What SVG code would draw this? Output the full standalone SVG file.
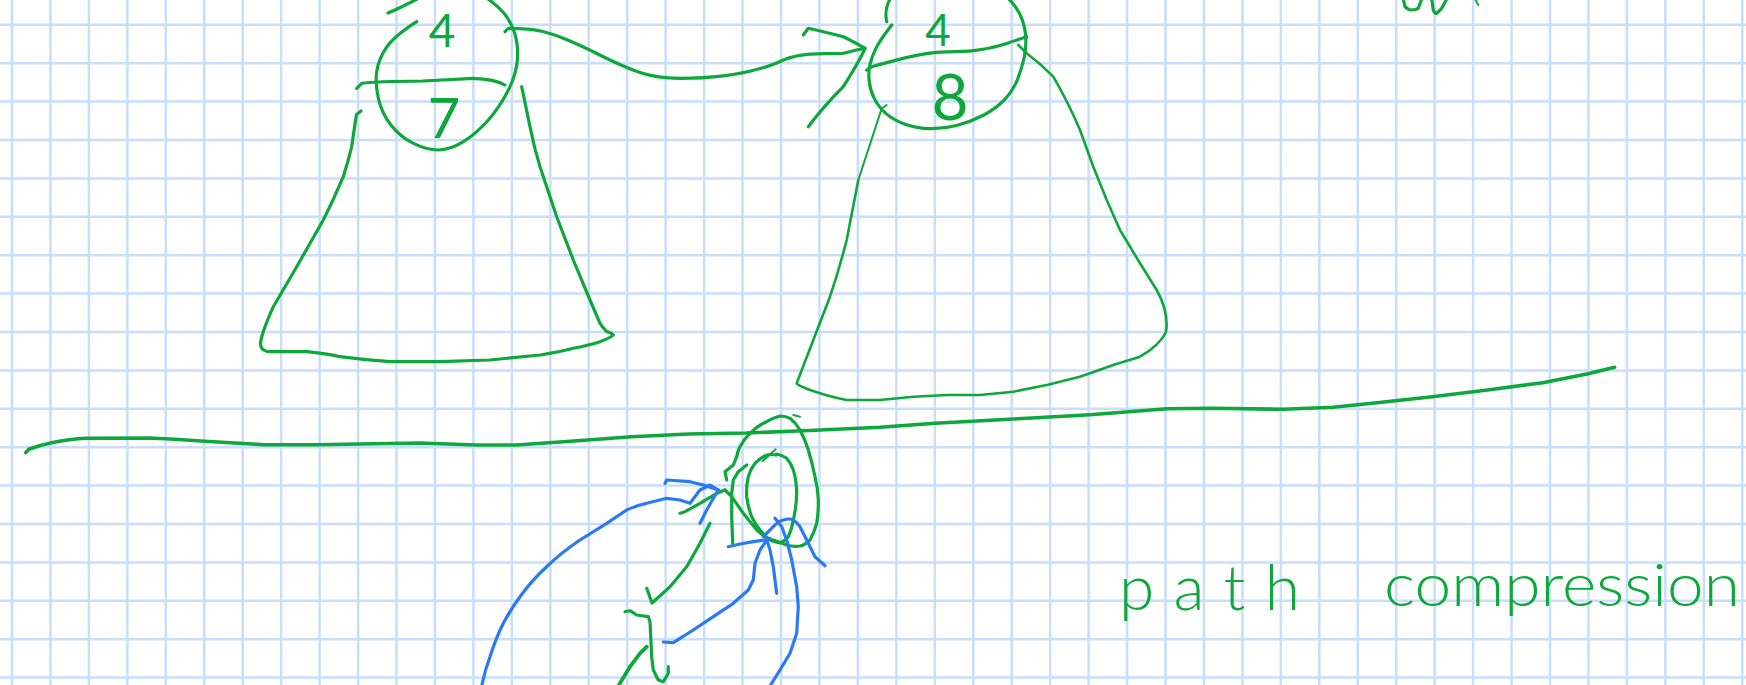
<svg xmlns="http://www.w3.org/2000/svg" width="1746" height="685" viewBox="0 0 1746 685">
<style>
.grid{fill:none;stroke:#c9defd;stroke-width:2.5}
.g{fill:none;stroke:#0ca83c;stroke-width:3.2;stroke-linecap:round;stroke-linejoin:round}
.gt{fill:none;stroke:#0ca83c;stroke-width:2;stroke-linecap:round;stroke-linejoin:round}
.b{fill:none;stroke:#2a7af5;stroke-width:3.2;stroke-linecap:round;stroke-linejoin:round}
.lbl{fill:#0ca83c;font-family:Lato,"Liberation Sans",sans-serif;font-weight:300}
.dig{fill:#0ca83c;font-family:Lato,"Liberation Sans",sans-serif;font-weight:400}
</style>
<rect width="1746" height="685" fill="#ffffff"/>
<g id="grid">
<path class="grid" d="M12 0V685M50.45 0V685M88.9 0V685M127.35 0V685M165.8 0V685M204.25 0V685M242.7 0V685M281.15 0V685M319.6 0V685M358.05 0V685M396.5 0V685M434.95 0V685M473.4 0V685M511.85 0V685M550.3 0V685M588.75 0V685M627.2 0V685M665.65 0V685M704.1 0V685M742.55 0V685M781 0V685M819.45 0V685M857.9 0V685M896.35 0V685M934.8 0V685M973.25 0V685M1011.7 0V685M1050.15 0V685M1088.6 0V685M1127.05 0V685M1165.5 0V685M1203.95 0V685M1242.4 0V685M1280.85 0V685M1319.3 0V685M1357.75 0V685M1396.2 0V685M1434.65 0V685M1473.1 0V685M1511.55 0V685M1550 0V685M1588.45 0V685M1626.9 0V685M1665.35 0V685M1703.8 0V685M1742.25 0V685"/>
<path class="grid" d="M0 24.8H1746M0 63.2H1746M0 101.6H1746M0 140H1746M0 178.4H1746M0 216.8H1746M0 255.2H1746M0 293.6H1746M0 332H1746M0 370.4H1746M0 408.8H1746M0 447.2H1746M0 485.6H1746M0 524H1746M0 562.4H1746M0 600.8H1746M0 639.2H1746M0 677.6H1746"/>
</g>

<g id="node-left">
<path class="g" d="M416.7,21.7 Q393.3,36.7 385.8,48.4 Q378.3,60 376.7,71.7 Q375,83.3 378.4,98.3 Q381.7,113.3 390.9,125 Q400,136.7 413.4,143.4 Q426.7,150 438.4,150 Q450,150 463.4,141.7 Q476.7,133.3 488.4,120 Q500,106.7 508.4,90 Q516.7,73.3 517.5,58.3 Q518.3,43.3 514.2,31.7 Q510,20 503.4,12.5 Q496.7,5 486.7,-2"/>
<path class="g" d="M356.7,88.3 L361.7,83.3 Q373,81.5 423,81 Q460,79 473,78.3 Q495,79 505,85"/>
<path class="g" d="M388,13 Q400,8 417,-1"/>
<text class="dig" x="442" y="47" font-size="46" text-anchor="middle">4</text>
<text class="dig" x="444" y="138" font-size="56" text-anchor="middle">7</text>
</g>

<g id="tree-left">
<path class="g" d="M361,111 L356.5,114.5 Q354,130 351.7,146.7 Q348,162 343.3,176.7 Q334,199 323.3,220 L296.7,266.7 L273.3,306.7 Q262,332 260.5,343 Q260,350 268,351.7 L306.7,351.7 Q330,354 340,356.7 Q365,360 390,361.7 L440,361.7 L490,360 L540,355 Q560,352 573.3,348.3 Q590,345 600,341.7 Q612,337 613.3,335 Q610,332 606.7,331.7 Q602,327 600,323.3 L590,300 L573.3,260 L556.7,216.7 L540,166.7 Q534,147 530,126.7 L521.7,86.7"/>
</g>

<g id="node-right">
<path class="g" d="M891.7,25 Q880,40 875.9,48.4 Q871.7,56.7 870,64.4 Q868.3,72 869.2,81 Q870,90 874.2,98.4 Q878.3,106.7 885.8,113.4 Q893.3,120 905,124.2 Q916.7,128.3 929.9,128.7 Q943,129 956.5,125.5 Q970,122 983.4,115.2 Q996.7,108.3 1005,99.2 Q1013.3,90 1017.7,79 Q1022,68 1024.4,56.5 Q1026.7,45 1025.4,33.5 Q1024,22 1019.5,13.5 Q1015,5 1008,-2"/>
<path class="g" d="M866.7,70 L871.7,66.7 Q890,61.7 903,58.4 Q916.7,55 928,53.4 Q940,51.7 955,51.7 Q970,51.7 983,49.2 Q996.7,46.7 1006.7,43.4 Q1016.7,40 1026.7,36.7"/>
<path class="g" d="M890,-1 Q884,10 886.7,21.7"/>
<text class="dig" x="938" y="46" font-size="44" text-anchor="middle">4</text>
<text class="dig" x="950" y="120" font-size="64" font-weight="700" text-anchor="middle">8</text>
</g>

<g id="tree-right">
<path class="gt" d="M886.7,105 L881.7,108.5 L858.3,180"/>
<path class="g" style="stroke-width:2.6" d="M858.3,180 L846.7,240 Q839,270 830,296.7 L813.3,340 L796.7,383.3 Q800,387 820,393.3 Q835,398 846.7,400 L880,400 L913.3,396.7 L946.7,395 L980,395 L1013.3,391.7 L1046.7,385 L1080,376.7 L1113.3,365 L1140,356.7 Q1160,345 1166,332 Q1169,312 1156.7,290 L1140,263.3 L1120,230 L1106.7,200 L1093.3,166.7 L1080,130 Q1068,102 1053.3,76.7 Q1040,63.3 1026.7,53.3 L1018.3,45"/>
</g>

<g id="connectors">
<path class="g" d="M505,31.7 L508.3,28.3 Q530,28.3 543,31.5 Q556.7,35 570,41 Q583.3,46.7 603.3,56.7 Q623.3,66.7 640,72.5 Q656.7,78.3 680,78.3 Q703.3,78.3 723.3,75.8 Q743.3,73.3 758.3,69 Q773.3,65 783.3,60 Q796.7,55 810,54.2 Q823.3,53.3 843.3,53.3 Q856.7,50 865,48.3"/>
<path class="g" d="M803.3,35 L808.3,28.3 Q823.3,31.7 843.3,36.7 Q856.7,43.3 865,48.3"/>
<path class="g" d="M865,48.3 Q860,60 843.3,86.7 Q823.3,106.7 808.3,126.7"/>
</g>

<g id="divider">
<path class="g" style="stroke-width:3.6" d="M25.8,452.7 L28.7,449.3 Q40,445 51.7,442.7 Q70,439 86.1,438.3 L149.3,438 Q175,439 200.9,441 L264,444.7 L315.7,444.7 L419,443 L476.5,445 L516.6,445 L574,441 L631.5,436.7 L688.9,434 L746.3,433 L803.7,430.7 L880,427.3 L935.2,423.3 L1018.1,418.7 L1089.9,414.7 L1167.2,408.7 L1211.4,408.3 L1283.2,409.3 L1332.9,407.3 L1377.1,402.7 L1432.3,396.7 L1487.5,390 L1542.8,382.7 L1586.9,374 L1614.6,367.3"/>
</g>

<g id="bottom-sketch">
<path class="g" d="M726.7,480 L725,471.7 L733.3,465 L736.7,456.7 Q738,450 740,446.7 Q744,439 750,433.3 Q756,427 763.3,423.3 Q772,418 780,416 Q786,416 790,418.3 Q796,423 800,430 Q805,439 808.3,450 Q812,462 815,476.7 Q818,489 818.3,500 Q818.5,513 816.7,523.3 Q814,533 810,540 Q805,545 800,546 Q793,547 786.7,545 L773.3,540"/>
<path class="gt" d="M793.3,415 L800,416.7"/>
<path class="g" d="M776.7,455 Q770,454 766.7,455 Q760,458 755,463.3 Q750,470 748.3,476.7 Q746,487 746.7,496.7 Q748,507 751.7,516.7 Q755,524 760,530 Q765,536 770,540 Q775,543 780,542.7 Q785,541 788.3,536.7 Q792,529 793.3,520 Q796.5,506 796.7,493.3 Q796.5,480 793.3,470 Q791,463 786.7,458.3 Q782,455 776.7,454"/>
<path class="gt" d="M762.7,461 L775.7,449.3"/>
<path class="g" d="M725,490 L731.7,496.7 L743.3,513.3 L756.7,530 L766.7,538.3 L780,542.7"/>
<path class="g" d="M746.7,465 L738.3,471.7 L733.3,480 L731.7,493.3 L731.7,516.7 L732.7,543.3"/>
<path class="g" d="M680,513.3 L685,511.7 L700,503.3 L716.7,493.3 L725,490"/>
<path class="g" d="M710,523.3 L700,543.3 L686.7,566.7 L670,586.7 L652,603 L646.7,588.3"/>
<path class="g" d="M625,611.7 L630,610.7 L636.7,615 L648.3,616.7 L650,621.7 L651.7,656.7 L653.3,670 L658.3,680 L663.3,681.7 L668.3,673.3 L668.3,666.7"/>
<path class="g" style="stroke-width:3.8" d="M646.7,646.7 L640,653.3 L630,666.7 L618.3,686"/>
<path class="b" d="M481.7,686 Q485,670 490,656.7 Q496,638 503.3,623.3 Q511,609 520,596.7 Q532,580 546.7,566.7 Q562,552 580,540 L606.7,523.3 L626.7,510 Q637,505 646.7,503.3 L666.7,498.3 L680,500 L690,503.3 L700,490 L710,485 L718.3,490"/>
<path class="b" d="M665,483.3 L666.7,480 L690,481.7 L703.3,485 L718.3,490"/>
<path class="b" d="M700,523.3 L706.7,510 L713.3,498.3 L718.3,490"/>
<path class="b" d="M728.3,546.7 L740,544 L753.3,541.7 L765,540 L770,538.3"/>
<path class="b" d="M763.3,536.7 L773.3,526.7 Q779,521 783.3,520 Q788,518.5 791.7,519.3 Q797,522 800,526.7 L806.7,540 L815,556.7 L825,565.7"/>
<path class="b" d="M775,518.3 L781.7,526.7 L786.7,540 L791.7,560 L796.7,586.7 L798.3,606.7 L796.7,633.3 L790,653.3 L780,670 L770,686"/>
<path class="b" d="M766.7,540 L760,550 L755,563.3 L753.3,580 L748.3,590 L733.3,603.3 L713.3,616.7 L693.3,630 L680,638.3 L673.3,642.7 L663.3,642"/>
<path class="b" d="M766.7,540 L770,550 L773.3,566.7 L775,580 L776.7,593.3"/>
</g>

<g id="top-right-fragments">
<path class="g" d="M1403.3,-1 L1405,6.7 Q1408,10 1411.7,10 Q1416,10 1418.3,8.3 L1421.7,-1"/>
<path class="g" d="M1431.7,-1 L1433.3,10 Q1435,14 1436.7,13.3 L1441.7,8.3 L1446.7,-1"/>
<path class="gt" d="M1475,-1 L1478.3,5"/>
</g>

<g id="label-path-compression">
<text class="lbl" x="1119" y="610" font-size="64" textLength="181" lengthAdjust="spacing">path</text>
<text class="lbl" x="1384" y="606" font-size="60" textLength="356" lengthAdjust="spacingAndGlyphs">compression</text>
</g>
</svg>
